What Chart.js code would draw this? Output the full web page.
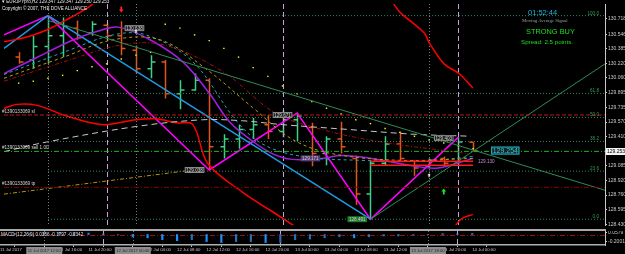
<!DOCTYPE html>
<html>
<head>
<meta charset="utf-8">
<script src="https://cdn.jsdelivr.net/npm/chart.js@4.4.1/dist/chart.umd.min.js"></script>
<style>
  html, body { margin: 0; padding: 0; background: #000; width: 625px; height: 254px; overflow: hidden; }
  canvas { position: absolute; left: 0; }
  #main { top: 0; }
  #macd { top: 231px; }
  .sep { position: absolute; left: 0; width: 606px; background: #a8a8a8; }
  .txt { position: absolute; white-space: nowrap; font-family: 'Liberation Sans', Arial, sans-serif; line-height: 1; }
</style>
</head>
<body>
<canvas id="main" width="625" height="229"></canvas>
<div class="sep" style="top:229px;height:2px"></div>
<canvas id="macd" width="625" height="23"></canvas>

<div class="txt" style="left:2px;top:0px;font-size:4.6px;color:#e8e8e8">▾ EURJPYpro,H2 129.347 129.347 129.250 129.253</div>
<div class="txt" style="left:2px;top:7px;font-size:4.6px;color:#e8e8e8">Copyright © 2007, THE DOVE ALLIANCE</div>

<div class="txt" style="left:528px;top:9px;font-size:7.5px;color:#1fb6dc">01:52:44</div>
<div class="txt" style="left:522px;top:19px;font-size:4.8px;color:#8fa89a;font-family:'Liberation Serif',serif">Moving Average Signal</div>
<div class="txt" style="left:526px;top:28px;font-size:7.4px;color:#1ee01e">STRONG BUY</div>
<div class="txt" style="left:521px;top:39px;font-size:6.2px;color:#1ee01e">Spread: 2.5 points.</div>

<script>
// ---- candles (EURJPY H2, bar 0 = 11 Jul 10:00) ----
const opens  = [130.292,130.260,130.410,130.528,130.614,130.560,130.646,130.528,130.367,130.164,130.239,129.885,129.928,130.035,129.295,129.381,129.488,129.542,129.467,129.596,129.510,129.220,129.381,129.167,128.770,129.113,129.328,129.135,129.081,129.167,129.113,129.347];
const highs  = [130.346,130.528,130.753,130.732,130.700,130.689,130.668,130.689,130.421,130.314,130.260,130.035,130.110,130.057,129.435,129.542,129.617,129.649,129.703,129.671,129.563,129.413,129.574,129.199,129.145,129.413,129.467,129.145,129.167,129.188,129.403,129.347];
const lows   = [130.217,130.164,130.217,130.292,130.485,130.528,130.485,130.314,130.110,130.057,129.831,129.714,129.917,129.038,129.167,129.274,129.381,129.381,129.403,129.360,129.081,129.092,129.220,128.652,128.491,129.092,129.145,128.974,129.060,129.081,129.092,129.250];
const closes = [130.239,130.410,130.528,130.635,130.507,130.657,130.528,130.389,130.164,130.239,129.885,129.928,130.035,129.295,129.381,129.488,129.542,129.467,129.596,129.638,129.220,129.381,129.295,128.770,129.113,129.328,129.167,129.060,129.145,129.113,129.349,129.253];

// parabolic SAR dots
const sarValues = [130.003,130.024,130.057,130.089,130.142,130.185,130.217,130.271,130.314,130.346,130.657,130.614,130.539,130.475,130.389,130.292,130.175,130.078,129.971,129.885,129.799,129.724,129.660,129.596,129.553,129.499,129.456,129.413,129.371,129.338,129.306,129.274];

// indicator lines: bar positions and prices
const redUpBars   = [-1,0.36,1.91,3.54,4.9,5.78,24.75,26.11,27.67,28.0,29.02,30.04,30.99];
const redUpPrices = [130.464,130.507,130.593,130.732,130.861,130.989,130.989,130.775,130.560,130.453,130.217,130.110,129.949];
const redLoBars   = [-1,-0.12,1.24,3.07,4.9,5.98,8.01,9.37,10.72,11.88,12.89,15.26,17.3,19.33,20.69,28.82,30.17,30.99];
const redLoPrices = [129.724,129.767,129.756,129.649,129.563,129.542,129.596,129.606,129.563,129.542,129.113,128.792,128.577,128.363,128.256,128.256,128.491,128.545];
const zigBars     = [-1,2,13,19,24,30];
const zigPrices   = [130.539,130.753,129.038,129.671,128.491,129.403];
const blueBars    = [-1,2,24];
const bluePrices  = [130.389,130.753,128.491];
const purpleBars  = [-1,1.03,3.74,5.44,6.79,8.96,11.2,13.03,14.38,15.94,17.3,18.65,20.69,22.04,24.07,26.99,28.62,30.99];
const purplePrices= [130.110,130.271,130.485,130.582,130.625,130.485,130.239,129.885,129.574,129.360,129.220,129.156,129.167,129.199,129.167,129.081,129.060,129.167];
const grayBars    = [-1,1.91,8.01,12.55,15.26,17.98,22.52,26.99,30.85];
const grayPrices  = [129.242,129.349,129.521,129.596,129.585,129.542,129.488,129.435,129.413];
const cyanBars    = [-1,3.07,6.45,8.69,11.88,14.79,16.62,19.33,23.4,27.46,30.99];
const cyanPrices  = [130.099,130.346,130.539,130.539,130.239,129.596,129.328,129.188,129.145,129.135,129.188];
const goldBars    = [-1,3.07,6.45,9.64,12.76,15.94,18.65,21.36,26.11,30.99];
const goldPrices  = [130.057,130.292,130.485,130.485,130.164,129.735,129.381,129.220,129.145,129.167];
const dredBars    = [-1,3.07,7.13,10.05,13.91,17.5,20.69,24.75,30.65];
const dredPrices  = [130.024,130.239,130.432,130.421,130.132,129.671,129.488,129.349,129.220];
const goldTrendBars   = [-1,11.4];
const goldTrendPrices = [128.770,129.028];
const trendUpBars     = [24,40];
const trendUpPrices   = [128.491,130.217];
const trendDownBars   = [2,40];
const trendDownPrices = [130.700,128.813];
const boxLineBars     = [24,31];
const boxLinePrices   = [129.135,129.092];

// fibonacci levels (drawn from bar 2)
const fibNames  = ['100.0','61.8','50.0','38.2','23.6','0.0'];
const fibPrices = [130.753,129.889,129.622,129.355,129.025,128.491];

// order lines
const orderNames  = ['#1390133069 sl','#1390133069 sell 1.00','#1390133069 tp'];
const orderPrices = [129.649,129.245,128.845];

// price tags on the chart
const tagBars   = [7.9,12.0,18.0,19.9,23.1,29.0,31.9,33.2];
const tagPrices = [130.614,129.038,129.649,129.167,128.491,129.392,129.130,129.254];
const tagTexts  = ['130.638','129.038','129.671','129.171','128.491','129.403','129.130','129.254'];

// vertical lines
const vDotBars  = [2,8,28];
const vDashBars = [6,18,30];

// axes
const priceTicks = [130.718,130.546,130.385,130.220,130.060,129.895,129.735,129.570,129.410,129.085,128.920,128.760,128.595,128.430];
const lastPrice = 129.253;
const timeTickBars   = [-1,1,3,5,7,9,11,13,15,17,19,21,23,25,27,29,31];
const timeTickLabels = ['11 Jul 2017','11 Jul 12:00','11 Jul 16:00','11 Jul 20:00','12 Jul 00:00','12 Jul 04:00','12 Jul 08:00','12 Jul 12:00','12 Jul 16:00','12 Jul 20:00','13 Jul 00:00','13 Jul 04:00','13 Jul 08:00','13 Jul 12:00','13 Jul 16:00','13 Jul 20:00','14 Jul 00:00'];
const timeBoxTexts = ['11 Jul 2017 12:00','12 Jul 2017 00:00','13 Jul 2017 18:00'];

// MACD histogram
const macdValues = [0.03,0.04,0.05,0.06,0.05,0.04,0.02,0.0,-0.068,-0.095,-0.149,-0.176,-0.149,-0.203,-0.23,-0.203,-0.203,-0.23,-0.23,-0.149,-0.13,-0.095,-0.068,-0.095,-0.068,-0.041,-0.041,-0.014,-0.01,0.03,0.02,0.0356];
const macdTicks = [0.0579,-0.2001];

const FONT = "'Liberation Sans', Arial, sans-serif";
const pts = (xs, ys) => xs.map((x, i) => ({ x, y: ys[i] }));

function line(xs, ys, color, width, dash, smooth) {
  return { data: pts(xs, ys), borderColor: color, borderWidth: width, borderDash: dash || [],
           pointRadius: 0, tension: smooth ? 0.35 : 0, fill: false };
}

const ohlcPlugin = {
  id: 'ohlc',
  beforeDatasetsDraw(chart) {
    const { ctx, scales: { x, y } } = chart;
    ctx.save();
    ctx.lineWidth = 1.5;
    opens.forEach((o, i) => {
      const c = closes[i];
      const px = Math.round(x.getPixelForValue(i)) + 0.5;
      ctx.strokeStyle = c >= o ? '#3fcf86' : '#e0561a';
      ctx.beginPath();
      ctx.moveTo(px, y.getPixelForValue(highs[i]));
      ctx.lineTo(px, y.getPixelForValue(lows[i]));
      ctx.moveTo(px - 4, y.getPixelForValue(o));
      ctx.lineTo(px, y.getPixelForValue(o));
      ctx.moveTo(px, y.getPixelForValue(c));
      ctx.lineTo(px + 4, y.getPixelForValue(c));
      ctx.stroke();
    });
    ctx.restore();
  }
};

function vLines(chart) {
  const { ctx, chartArea: a, scales: { x } } = chart;
  ctx.save();
  ctx.lineWidth = 1;
  vDotBars.forEach(b => {
    const px = Math.round(x.getPixelForValue(b)) + 0.5;
    ctx.strokeStyle = '#7a7a7a'; ctx.setLineDash([1, 2]);
    ctx.beginPath(); ctx.moveTo(px, a.top); ctx.lineTo(px, a.bottom); ctx.stroke();
  });
  vDashBars.forEach(b => {
    const px = Math.round(x.getPixelForValue(b)) + 0.5;
    ctx.strokeStyle = '#c9a0d8'; ctx.setLineDash([5, 3]);
    ctx.beginPath(); ctx.moveTo(px, a.top); ctx.lineTo(px, a.bottom); ctx.stroke();
  });
  ctx.restore();
}

function arrow(ctx, px, py, up, color, s) {
  ctx.fillStyle = color;
  ctx.beginPath();
  const d = up ? -1 : 1;
  ctx.moveTo(px, py + d * s);
  ctx.lineTo(px - s * 0.8, py);
  ctx.lineTo(px - s * 0.3, py);
  ctx.lineTo(px - s * 0.3, py - d * s);
  ctx.lineTo(px + s * 0.3, py - d * s);
  ctx.lineTo(px + s * 0.3, py);
  ctx.lineTo(px + s * 0.8, py);
  ctx.closePath();
  ctx.fill();
}

const markPlugin = {
  id: 'marks',
  beforeDatasetsDraw(chart) { vLines(chart); },
  afterDatasetsDraw(chart) {
    const { ctx, scales: { x, y } } = chart;
    ctx.save();
    ctx.textBaseline = 'alphabetic';
    // fib labels
    ctx.font = `4.6px ${FONT}`;
    ctx.fillStyle = '#3c9a5c';
    ctx.textAlign = 'right';
    fibNames.forEach((n, i) => ctx.fillText(n, 599, y.getPixelForValue(fibPrices[i]) - 1));
    // order labels
    ctx.textAlign = 'left';
    ctx.fillStyle = '#d8d8d8';
    orderNames.forEach((n, i) => ctx.fillText(n, 2, y.getPixelForValue(orderPrices[i]) - 2));
    // price tags
    ctx.textBaseline = 'middle';
    tagTexts.forEach((t, i) => {
      const px = x.getPixelForValue(tagBars[i]);
      const py = y.getPixelForValue(tagPrices[i]);
      const last = i === tagTexts.length - 1;
      ctx.font = last ? `7px ${FONT}` : `4.6px ${FONT}`;
      const w = ctx.measureText(t).width + 3;
      const h = last ? 8 : 6;
      if (i === 4) { ctx.fillStyle = '#1f7a2c'; ctx.fillRect(px - w / 2, py - h / 2, w, h); }
      else if (i === 3) { ctx.fillStyle = '#5a3b7a'; ctx.fillRect(px - w / 2, py - h / 2, w, h); }
      else if (i !== 6) { ctx.fillStyle = '#202020'; ctx.fillRect(px - w / 2, py - h / 2, w, h);
        ctx.strokeStyle = last ? '#19c3d6' : '#8a8a8a'; ctx.lineWidth = 1; ctx.strokeRect(px - w / 2 + 0.5, py - h / 2 + 0.5, w - 1, h - 1); }
      ctx.fillStyle = last ? '#19d3e6' : (i === 6 ? '#c68ad8' : '#d0d0d0');
      ctx.textAlign = 'center';
      ctx.fillText(t, px, py + 0.5);
    });
    // arrows
    arrow(ctx, x.getPixelForValue(7), y.getPixelForValue(130.82), false, '#ff2020', 3);
    arrow(ctx, x.getPixelForValue(29), y.getPixelForValue(128.80), true, '#20e020', 3);
    arrow(ctx, x.getPixelForValue(28), y.getPixelForValue(128.98), true, '#f0f0f0', 2);
    arrow(ctx, x.getPixelForValue(8), y.getPixelForValue(130.58), true, '#f0f0f0', 2);
    ctx.restore();
  },
  afterDraw(chart) {
    const { ctx, scales: { y } } = chart;
    const py = Math.round(y.getPixelForValue(lastPrice));
    ctx.save();
    ctx.fillStyle = '#f4f4f4';
    ctx.fillRect(606, py - 3, 19, 7);
    ctx.fillStyle = '#000';
    ctx.font = `5px ${FONT}`;
    ctx.textBaseline = 'middle';
    ctx.textAlign = 'left';
    ctx.fillText(lastPrice.toFixed(3), 607, py + 0.5);
    ctx.restore();
  }
};

const fibSets = fibPrices.map(p => line([2, 40], [p, p], '#2e8b57', 1, [1, 2]));
const orderSets = [
  line([-1, 40], [orderPrices[0], orderPrices[0]], '#c01818', 1, [4, 2]),
  line([-1, 40], [orderPrices[1], orderPrices[1]], '#22b522', 1, [5, 2, 1, 2]),
  line([-1, 40], [orderPrices[2], orderPrices[2]], '#8b0000', 1, [5, 2, 1, 2])
];

new Chart(document.getElementById('main'), {
  type: 'line',
  data: {
    datasets: [
      ...fibSets,
      ...orderSets,
      line(boxLineBars, [boxLinePrices[0], boxLinePrices[0]], '#ff1a1a', 1.5),
      line(boxLineBars, [boxLinePrices[1], boxLinePrices[1]], '#ff1a1a', 1.5),
      line(trendUpBars, trendUpPrices, '#2e8b57', 1),
      line(trendDownBars, trendDownPrices, '#2e8b57', 1),
      line(goldTrendBars, goldTrendPrices, '#b8950b', 1, [4, 2, 1, 2]),
      line(grayBars, grayPrices, '#c8c8c8', 1, [6, 4], true),
      line(dredBars, dredPrices, '#a01010', 1, [4, 2, 1, 2], true),
      line(goldBars, goldPrices, '#c09a10', 1, [3, 3], true),
      line(cyanBars, cyanPrices, '#1fa8b8', 1, [3, 3], true),
      line(purpleBars, purplePrices, '#a11fe0', 1.5, [], true),
      line(redUpBars, redUpPrices, '#ff0000', 1.5, [], true),
      line(redLoBars, redLoPrices, '#ff0000', 1.5, [], true),
      line(blueBars, bluePrices, '#1e9be8', 1.5),
      line(zigBars, zigPrices, '#ff00ff', 1.5),
      { data: sarValues.map((v, i) => ({ x: i, y: v })), showLine: false, pointStyle: 'rect',
        pointRadius: 1, pointBackgroundColor: '#ffff00', pointBorderWidth: 0 }
    ]
  },
  options: {
    responsive: false, animation: false, events: [],
    layout: { padding: 0 },
    plugins: { legend: { display: false }, tooltip: { enabled: false } },
    scales: {
      x: { type: 'linear', min: -1, max: 40, display: false },
      y: {
        position: 'right', min: 128.427, max: 130.882,
        afterFit(s) { s.width = 20; s.paddingTop = 0; s.paddingBottom = 0; },
        afterBuildTicks(s) { s.ticks = priceTicks.map(v => ({ value: v })); },
        ticks: { color: '#c8c8c8', font: { size: 5, family: FONT }, padding: 1, callback: v => v.toFixed(3) },
        grid: { drawOnChartArea: false, color: '#c8c8c8', tickLength: 2 },
        border: { color: '#c8c8c8', width: 1 }
      }
    }
  },
  plugins: [ohlcPlugin, markPlugin]
});

const macdBoxPlugin = {
  id: 'macdBoxes',
  beforeDatasetsDraw(chart) {
    const { ctx, chartArea: a, scales: { x, y } } = chart;
    vLines(chart);
    ctx.save();
    ctx.strokeStyle = '#9b1010'; ctx.setLineDash([5, 2, 1, 2]); ctx.lineWidth = 1;
    const zy = Math.round(y.getPixelForValue(0)) + 0.5;
    ctx.beginPath(); ctx.moveTo(a.left, zy); ctx.lineTo(a.right, zy); ctx.stroke();
    ctx.restore();
  },
  afterDraw(chart) {
    const { ctx, chartArea: a, scales: { x } } = chart;
    ctx.save();
    ctx.font = `4.6px ${FONT}`;
    ctx.fillStyle = '#e0e0e0';
    ctx.textBaseline = 'middle';
    ctx.fillText('MACD (12,26,9) 0.0356 -0.1797 -0.2342', 1, a.top + 4);
    ctx.font = `4.2px ${FONT}`;
    ctx.textAlign = 'center';
    vDotBars.forEach((b, i) => {
      const px = x.getPixelForValue(b);
      ctx.fillStyle = '#8c8c8c';
      ctx.fillRect(px - 18, a.bottom + 2, 36, 7);
      ctx.fillStyle = '#2a2a2a';
      ctx.fillText(timeBoxTexts[i], px, a.bottom + 5.8);
    });
    ctx.restore();
  }
};

new Chart(document.getElementById('macd'), {
  type: 'bar',
  data: {
    datasets: [{
      data: macdValues.map((v, i) => ({ x: i, y: v })),
      backgroundColor: macdValues.map((v, i) => (i > 0 && v < macdValues[i - 1]) ? '#1e8fff' : '#2a6fb8'),
      barThickness: 1.5
    }]
  },
  options: {
    responsive: false, animation: false, events: [],
    layout: { padding: 0 },
    plugins: { legend: { display: false }, tooltip: { enabled: false } },
    scales: {
      x: {
        type: 'linear', min: -1, max: 40, offset: false,
        afterFit(s) { s.height = 9; s.paddingLeft = 0; s.paddingRight = 0; },
        afterBuildTicks(s) { s.ticks = timeTickBars.map(v => ({ value: v })); },
        ticks: { autoSkip: false, maxRotation: 0, align: 'start', padding: 0, color: '#c8c8c8',
                 font: { size: 4.3, family: FONT }, callback: (v, i) => timeTickLabels[i] },
        grid: { drawOnChartArea: false, color: '#c8c8c8', tickLength: 2 },
        border: { color: '#b0b0b0', width: 1.5 }
      },
      y: {
        position: 'right', min: -0.30, max: 0.10,
        afterFit(s) { s.width = 20; s.paddingTop = 0; s.paddingBottom = 0; },
        afterBuildTicks(s) { s.ticks = macdTicks.map(v => ({ value: v })); },
        ticks: { color: '#c8c8c8', font: { size: 5, family: FONT }, padding: 1, callback: v => v.toFixed(4) },
        grid: { drawOnChartArea: false, color: '#c8c8c8', tickLength: 2 },
        border: { color: '#c8c8c8', width: 1 }
      }
    }
  },
  plugins: [macdBoxPlugin]
});
</script>
</body>
</html>
